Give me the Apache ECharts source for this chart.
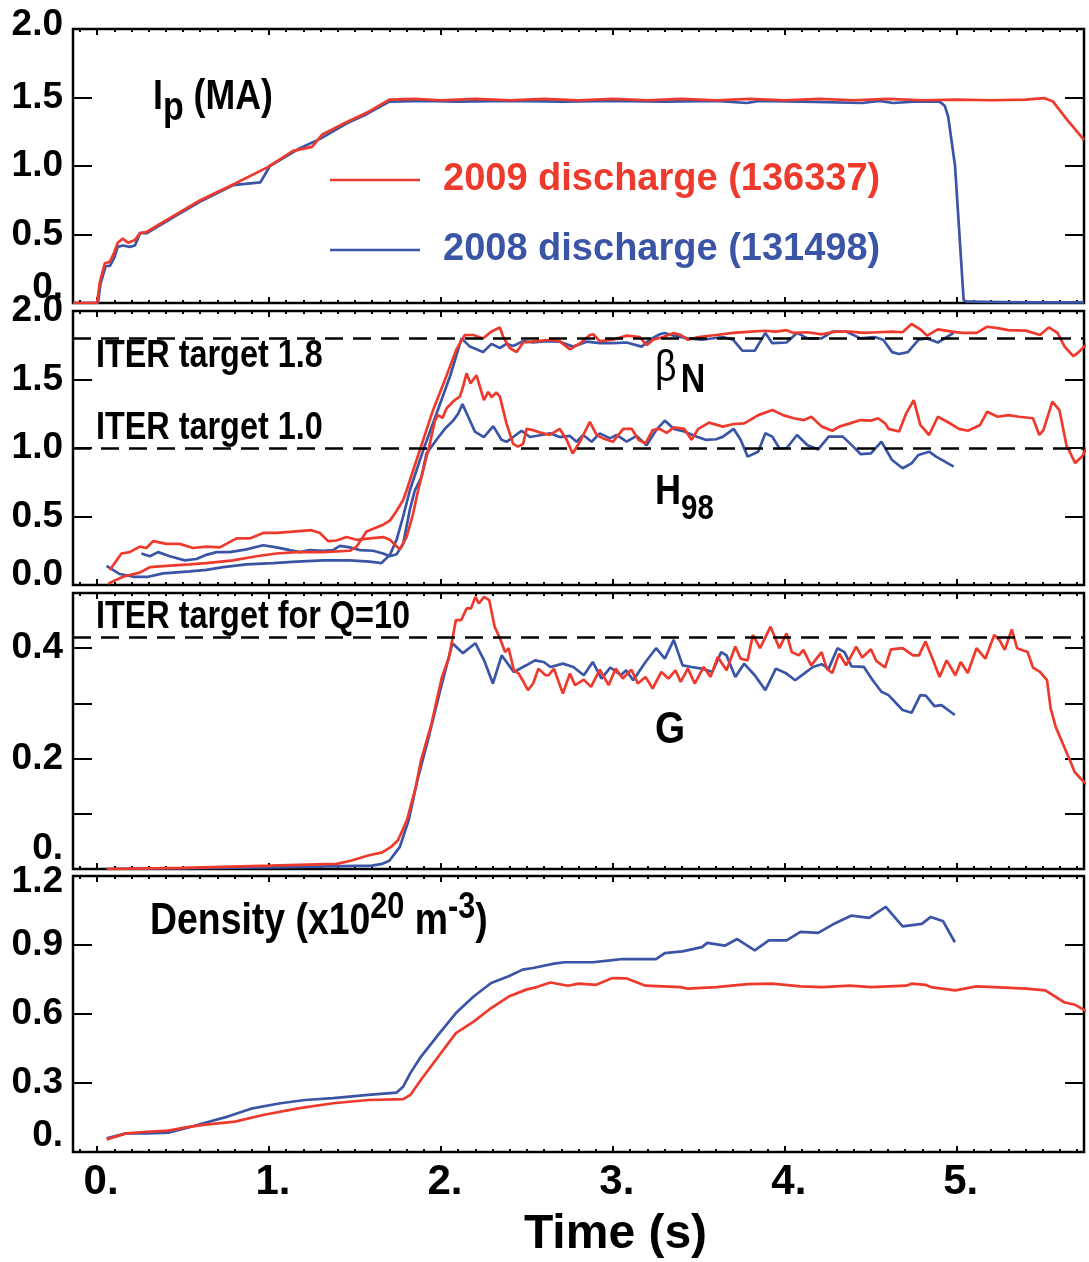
<!DOCTYPE html>
<html>
<head>
<meta charset="utf-8">
<title>NSTX discharge comparison</title>
<script src="https://cdn.jsdelivr.net/npm/echarts@6/dist/echarts.min.js"></script>
<style>
  html, body { margin: 0; padding: 0; background: #fff; }
  #chart { width: 1089px; height: 1262px; }
</style>
</head>
<body>
<div id="chart"></div>
<script>
// ---- time axis (s) ----
const timeMin = -0.14;
const timeMax = 5.74;
const timeTicks = [0, 1, 2, 3, 4, 5];
const timeTickLabels = ['0.', '1.', '2.', '3.', '4.', '5.'];

// ---- y tick labels per panel ----
const ipTickLabels = ['0.', '0.5', '1.0', '1.5', '2.0'];
const betaTickLabels = ['0.0', '0.5', '1.0', '1.5', '2.0'];
const gTickLabels = ['0.', '', '0.2', '', '0.4', ''];
const neTickLabels = ['0.', '0.3', '0.6', '0.9', '1.2'];

// ---- reference levels ----
const iterTargetsBetaH = [1.8, 1.0];
const iterTargetG = 0.42;

// ---- series names ----
const NAME_2009 = '2009 discharge (136337)';
const NAME_2008 = '2008 discharge (131498)';

// ---- plasma current Ip (MA): [time, value] ----
const ipRed = [
  [-0.14, 0.0], [0.0, 0.0], [0.016, 0.15], [0.045, 0.29], [0.074, 0.30], [0.10, 0.37], [0.12, 0.44],
  [0.15, 0.47], [0.18, 0.44], [0.22, 0.46], [0.25, 0.51], [0.29, 0.52], [0.45, 0.64], [0.60, 0.75],
  [0.80, 0.87], [0.99, 0.99], [1.14, 1.11], [1.25, 1.14], [1.31, 1.23], [1.45, 1.32], [1.57, 1.39],
  [1.70, 1.485], [1.85, 1.49], [2.0, 1.48], [2.2, 1.49], [2.4, 1.48], [2.6, 1.49], [2.8, 1.48],
  [3.0, 1.49], [3.2, 1.48], [3.4, 1.49], [3.6, 1.48], [3.8, 1.49], [4.0, 1.48], [4.2, 1.49],
  [4.4, 1.48], [4.6, 1.49], [4.8, 1.48], [5.0, 1.485], [5.2, 1.48], [5.4, 1.485], [5.51, 1.495],
  [5.56, 1.47], [5.64, 1.34], [5.74, 1.19]
];
const ipBlue = [
  [-0.14, 0.0], [0.005, 0.0], [0.02, 0.14], [0.05, 0.27], [0.074, 0.27], [0.10, 0.33], [0.12, 0.41],
  [0.15, 0.42], [0.19, 0.41], [0.22, 0.42], [0.25, 0.51], [0.29, 0.51], [0.45, 0.63], [0.60, 0.74],
  [0.79, 0.86], [0.95, 0.88], [1.005, 1.0], [1.18, 1.13], [1.30, 1.20], [1.45, 1.31], [1.57, 1.38],
  [1.70, 1.47], [1.9, 1.475], [2.1, 1.47], [2.4, 1.475], [2.7, 1.47], [3.0, 1.475], [3.3, 1.47],
  [3.6, 1.475], [3.78, 1.46], [3.85, 1.475], [4.1, 1.47], [4.45, 1.46], [4.55, 1.475], [4.63, 1.46],
  [4.75, 1.47], [4.90, 1.47], [4.93, 1.44], [4.95, 1.36], [4.99, 1.0], [5.015, 0.51], [5.04, 0.02],
  [5.06, 0.01], [5.4, 0.005], [5.74, 0.005]
];

// ---- normalized beta, beta_N ----
const betaRed = [
  [0.064, 0.01], [0.151, 0.06], [0.248, 0.09], [0.307, 0.13], [0.404, 0.14], [0.539, 0.15], [0.636, 0.16],
  [0.791, 0.18], [0.927, 0.21], [1.044, 0.23], [1.16, 0.24], [1.315, 0.24], [1.47, 0.25], [1.509, 0.28],
  [1.567, 0.39], [1.606, 0.41], [1.664, 0.44], [1.703, 0.47], [1.742, 0.54], [1.78, 0.62], [1.80, 0.69],
  [1.877, 0.985], [1.955, 1.28], [2.033, 1.53], [2.09, 1.72], [2.139, 1.825], [2.188, 1.825], [2.245, 1.80],
  [2.294, 1.85], [2.343, 1.88], [2.362, 1.81], [2.40, 1.73], [2.44, 1.70], [2.478, 1.77], [2.556, 1.78],
  [2.634, 1.79], [2.69, 1.78], [2.75, 1.72], [2.81, 1.765], [2.866, 1.825], [2.885, 1.83], [2.924, 1.78],
  [3.00, 1.79], [3.08, 1.82], [3.157, 1.81], [3.196, 1.75], [3.234, 1.79], [3.292, 1.81], [3.354, 1.84],
  [3.394, 1.825], [3.436, 1.79], [3.497, 1.81], [3.60, 1.825], [3.70, 1.84], [3.805, 1.85], [3.887, 1.856],
  [3.948, 1.85], [4.01, 1.86], [4.05, 1.84], [4.132, 1.845], [4.214, 1.83], [4.296, 1.85], [4.378, 1.85],
  [4.46, 1.84], [4.542, 1.845], [4.624, 1.85], [4.685, 1.845], [4.737, 1.905], [4.788, 1.866], [4.828, 1.82],
  [4.89, 1.866], [4.972, 1.85], [5.033, 1.84], [5.115, 1.84], [5.177, 1.885], [5.238, 1.875], [5.30, 1.86],
  [5.402, 1.857], [5.484, 1.825], [5.535, 1.88], [5.586, 1.84], [5.627, 1.74], [5.679, 1.67], [5.709, 1.70],
  [5.756, 1.76]
];
const betaBlue = [
  [0.055, 0.14], [0.132, 0.08], [0.21, 0.06], [0.297, 0.06], [0.384, 0.085], [0.539, 0.10], [0.636, 0.11],
  [0.733, 0.13], [0.869, 0.15], [1.024, 0.16], [1.16, 0.17], [1.315, 0.18], [1.47, 0.18], [1.586, 0.17],
  [1.654, 0.16], [1.703, 0.22], [1.742, 0.33], [1.78, 0.50], [1.819, 0.69], [1.897, 0.985], [1.974, 1.25],
  [2.052, 1.52], [2.12, 1.80], [2.168, 1.74], [2.245, 1.70], [2.294, 1.76], [2.343, 1.73], [2.381, 1.76],
  [2.42, 1.745], [2.478, 1.78], [2.536, 1.77], [2.614, 1.78], [2.69, 1.776], [2.769, 1.74], [2.847, 1.776],
  [2.924, 1.765], [3.0, 1.765], [3.08, 1.77], [3.167, 1.74], [3.215, 1.79], [3.273, 1.83], [3.30, 1.84],
  [3.354, 1.82], [3.436, 1.80], [3.518, 1.79], [3.64, 1.81], [3.70, 1.79], [3.753, 1.71], [3.825, 1.71],
  [3.887, 1.84], [3.927, 1.765], [4.01, 1.77], [4.071, 1.84], [4.132, 1.80], [4.214, 1.80], [4.276, 1.85],
  [4.357, 1.85], [4.44, 1.80], [4.521, 1.81], [4.572, 1.79], [4.624, 1.70], [4.664, 1.686], [4.716, 1.70],
  [4.777, 1.79], [4.828, 1.80], [4.89, 1.77], [4.982, 1.84]
];

// ---- confinement factor H98 ----
const h98Red = [
  [0.074, 0.11], [0.142, 0.23], [0.19, 0.24], [0.248, 0.28], [0.287, 0.27], [0.326, 0.32], [0.404, 0.30],
  [0.481, 0.30], [0.558, 0.27], [0.636, 0.28], [0.714, 0.275], [0.811, 0.34], [0.888, 0.34], [0.966, 0.38],
  [1.044, 0.38], [1.14, 0.39], [1.247, 0.40], [1.296, 0.38], [1.344, 0.32], [1.393, 0.325], [1.451, 0.35],
  [1.509, 0.33], [1.586, 0.34], [1.664, 0.35], [1.703, 0.33], [1.761, 0.26], [1.80, 0.35], [1.838, 0.52],
  [1.867, 0.69], [1.935, 1.03], [1.965, 1.20], [1.984, 1.24], [2.009, 1.22], [2.033, 1.29], [2.08, 1.35],
  [2.11, 1.375], [2.129, 1.45], [2.149, 1.545], [2.172, 1.47], [2.188, 1.50], [2.207, 1.53], [2.226, 1.45],
  [2.25, 1.35], [2.275, 1.41], [2.294, 1.37], [2.323, 1.405], [2.343, 1.375], [2.381, 1.18], [2.42, 1.03],
  [2.449, 1.01], [2.478, 1.03], [2.498, 1.14], [2.536, 1.13], [2.585, 1.11], [2.634, 1.095], [2.69, 1.14],
  [2.731, 1.06], [2.766, 0.96], [2.808, 1.045], [2.866, 1.19], [2.905, 1.095], [2.944, 1.07], [3.0, 1.045],
  [3.06, 1.14], [3.109, 1.14], [3.149, 1.06], [3.19, 1.034], [3.231, 1.13], [3.272, 1.14], [3.313, 1.11],
  [3.354, 1.15], [3.415, 1.14], [3.457, 1.06], [3.497, 1.14], [3.559, 1.185], [3.64, 1.156], [3.702, 1.175],
  [3.764, 1.18], [3.846, 1.24], [3.928, 1.277], [3.99, 1.24], [4.051, 1.217], [4.112, 1.204], [4.154, 1.228],
  [4.215, 1.156], [4.276, 1.126], [4.317, 1.156], [4.379, 1.18], [4.44, 1.204], [4.501, 1.20], [4.542, 1.217],
  [4.583, 1.18], [4.603, 1.14], [4.665, 1.12], [4.706, 1.253], [4.75, 1.35], [4.788, 1.168], [4.839, 1.095],
  [4.89, 1.228], [4.952, 1.186], [5.013, 1.14], [5.065, 1.126], [5.136, 1.168], [5.177, 1.265], [5.238, 1.228],
  [5.30, 1.24], [5.361, 1.228], [5.443, 1.217], [5.48, 1.095], [5.504, 1.13], [5.556, 1.338], [5.597, 1.277],
  [5.638, 1.02], [5.689, 0.89], [5.73, 0.94], [5.756, 1.0]
];
const h98Blue = [
  [0.258, 0.23], [0.307, 0.21], [0.355, 0.24], [0.423, 0.21], [0.51, 0.18], [0.578, 0.19], [0.636, 0.22],
  [0.695, 0.24], [0.772, 0.24], [0.869, 0.26], [0.966, 0.29], [1.044, 0.275], [1.121, 0.255], [1.18, 0.24],
  [1.237, 0.255], [1.315, 0.25], [1.373, 0.255], [1.412, 0.285], [1.47, 0.275], [1.528, 0.255], [1.606, 0.25],
  [1.664, 0.23], [1.703, 0.21], [1.742, 0.225], [1.78, 0.30], [1.819, 0.55], [1.848, 0.69], [1.887, 0.79],
  [1.916, 0.96], [1.974, 1.06], [2.023, 1.14], [2.071, 1.20], [2.10, 1.25], [2.125, 1.32], [2.158, 1.23],
  [2.197, 1.12], [2.25, 1.08], [2.304, 1.16], [2.352, 1.06], [2.381, 1.045], [2.42, 1.08], [2.469, 1.126],
  [2.517, 1.08], [2.585, 1.095], [2.634, 1.107], [2.69, 1.08], [2.75, 1.088], [2.789, 1.046], [2.827, 1.095],
  [2.876, 1.046], [2.924, 1.107], [2.983, 1.07], [3.021, 1.095], [3.08, 1.046], [3.138, 1.088], [3.196, 1.02],
  [3.251, 1.13], [3.302, 1.2], [3.354, 1.14], [3.415, 1.12], [3.477, 1.088], [3.539, 1.06], [3.60, 1.064],
  [3.641, 1.083], [3.702, 1.14], [3.743, 1.06], [3.784, 0.937], [3.845, 0.973], [3.887, 1.107], [3.927, 1.083],
  [3.968, 0.998], [4.01, 0.998], [4.071, 1.095], [4.132, 1.02], [4.194, 0.99], [4.255, 1.083], [4.337, 1.083],
  [4.398, 1.01], [4.44, 0.956], [4.501, 0.961], [4.562, 1.046], [4.624, 0.912], [4.685, 0.852], [4.737, 0.888],
  [4.777, 0.949], [4.839, 0.973], [4.88, 0.937], [4.982, 0.864]
];

// ---- gain parameter G ----
const gRed = [
  [0.056, 0.0], [0.5, 0.002], [1.006, 0.006], [1.393, 0.0094], [1.475, 0.015], [1.577, 0.0245], [1.659, 0.030],
  [1.71, 0.040], [1.75, 0.052], [1.802, 0.088], [1.853, 0.148], [1.884, 0.197], [1.945, 0.263], [2.006, 0.348],
  [2.047, 0.384], [2.087, 0.451], [2.118, 0.451], [2.149, 0.472], [2.175, 0.472], [2.20, 0.493], [2.22, 0.481],
  [2.251, 0.493], [2.281, 0.487], [2.312, 0.439], [2.343, 0.418], [2.373, 0.393], [2.394, 0.40], [2.424, 0.36],
  [2.45, 0.355], [2.475, 0.342], [2.506, 0.324], [2.536, 0.336], [2.567, 0.363], [2.608, 0.351], [2.627, 0.351],
  [2.657, 0.363], [2.709, 0.318], [2.75, 0.354], [2.78, 0.333], [2.831, 0.343], [2.873, 0.33], [2.924, 0.361],
  [2.975, 0.333], [3.016, 0.363], [3.057, 0.345], [3.108, 0.361], [3.145, 0.336], [3.19, 0.348], [3.231, 0.327],
  [3.282, 0.357], [3.323, 0.345], [3.364, 0.36], [3.394, 0.339], [3.436, 0.363], [3.476, 0.336], [3.528, 0.366],
  [3.568, 0.348], [3.61, 0.384], [3.661, 0.36], [3.712, 0.403], [3.743, 0.381], [3.784, 0.378], [3.814, 0.424],
  [3.856, 0.40], [3.917, 0.439], [3.968, 0.40], [4.01, 0.427], [4.04, 0.393], [4.081, 0.387], [4.108, 0.397],
  [4.153, 0.369], [4.214, 0.393], [4.244, 0.363], [4.276, 0.355], [4.316, 0.39], [4.357, 0.369], [4.415, 0.403],
  [4.45, 0.383], [4.501, 0.398], [4.532, 0.377], [4.583, 0.365], [4.617, 0.398], [4.685, 0.40], [4.746, 0.387],
  [4.78, 0.387], [4.818, 0.412], [4.859, 0.381], [4.90, 0.348], [4.941, 0.378], [4.992, 0.351], [5.023, 0.375],
  [5.064, 0.355], [5.115, 0.40], [5.166, 0.381], [5.218, 0.424], [5.248, 0.415], [5.279, 0.397], [5.32, 0.434],
  [5.351, 0.40], [5.412, 0.393], [5.443, 0.365], [5.484, 0.357], [5.525, 0.342], [5.546, 0.291], [5.576, 0.257],
  [5.617, 0.227], [5.658, 0.197], [5.685, 0.176], [5.72, 0.164], [5.756, 0.153]
];
const gBlue = [
  [0.056, 0.0], [1.0, 0.003], [1.598, 0.006], [1.659, 0.0094], [1.70, 0.015], [1.761, 0.040], [1.812, 0.088],
  [1.863, 0.161], [1.924, 0.233], [1.996, 0.324], [2.067, 0.409], [2.128, 0.391], [2.20, 0.409], [2.251, 0.378],
  [2.302, 0.336], [2.353, 0.387], [2.424, 0.357], [2.496, 0.369], [2.547, 0.378], [2.598, 0.375], [2.637, 0.366],
  [2.709, 0.372], [2.77, 0.366], [2.831, 0.351], [2.883, 0.375], [2.934, 0.345], [2.985, 0.365], [3.047, 0.351],
  [3.077, 0.36], [3.118, 0.342], [3.19, 0.375], [3.251, 0.40], [3.302, 0.381], [3.354, 0.415], [3.405, 0.369],
  [3.457, 0.366], [3.518, 0.363], [3.579, 0.357], [3.63, 0.393], [3.661, 0.387], [3.712, 0.348], [3.763, 0.372],
  [3.825, 0.351], [3.887, 0.324], [3.948, 0.363], [4.01, 0.354], [4.06, 0.342], [4.112, 0.354], [4.163, 0.366],
  [4.214, 0.371], [4.255, 0.363], [4.306, 0.40], [4.347, 0.393], [4.388, 0.367], [4.46, 0.366], [4.511, 0.342],
  [4.562, 0.321], [4.603, 0.315], [4.685, 0.288], [4.737, 0.283], [4.788, 0.315], [4.82, 0.314], [4.87, 0.295],
  [4.911, 0.297], [4.989, 0.279]
];

// ---- line-averaged density (1e20 m^-3) ----
const neRed = [
  [0.056, 0.055], [0.169, 0.081], [0.291, 0.088], [0.414, 0.093], [0.516, 0.107], [0.618, 0.118], [0.802, 0.132],
  [0.965, 0.161], [1.169, 0.19], [1.373, 0.212], [1.577, 0.226], [1.781, 0.23], [1.822, 0.248], [1.884, 0.314],
  [1.985, 0.415], [2.087, 0.517], [2.19, 0.567], [2.292, 0.626], [2.394, 0.676], [2.496, 0.706], [2.557, 0.717],
  [2.637, 0.737], [2.739, 0.723], [2.80, 0.732], [2.903, 0.727], [2.995, 0.756], [3.077, 0.755], [3.19, 0.723],
  [3.394, 0.717], [3.436, 0.71], [3.60, 0.717], [3.784, 0.73], [3.927, 0.732], [4.091, 0.72], [4.214, 0.717],
  [4.378, 0.723], [4.501, 0.717], [4.706, 0.723], [4.737, 0.732], [4.818, 0.727], [4.849, 0.717], [4.992, 0.703],
  [5.115, 0.72], [5.218, 0.717], [5.402, 0.71], [5.515, 0.703], [5.627, 0.65], [5.689, 0.64], [5.756, 0.611]
];
const neBlue = [
  [0.056, 0.06], [0.169, 0.081], [0.291, 0.081], [0.414, 0.084], [0.516, 0.103], [0.618, 0.125], [0.76, 0.154],
  [0.904, 0.19], [1.067, 0.212], [1.21, 0.226], [1.373, 0.234], [1.577, 0.248], [1.741, 0.258], [1.781, 0.285],
  [1.822, 0.343], [1.884, 0.415], [1.985, 0.51], [2.087, 0.604], [2.19, 0.676], [2.292, 0.735], [2.394, 0.764],
  [2.475, 0.793], [2.536, 0.80], [2.657, 0.819], [2.718, 0.825], [2.883, 0.825], [2.985, 0.833], [3.056, 0.839],
  [3.251, 0.839], [3.302, 0.865], [3.405, 0.872], [3.518, 0.891], [3.549, 0.909], [3.651, 0.897], [3.723, 0.926],
  [3.825, 0.877], [3.907, 0.92], [4.01, 0.92], [4.091, 0.957], [4.194, 0.953], [4.296, 0.996], [4.388, 1.028],
  [4.49, 1.018], [4.587, 1.066], [4.685, 0.981], [4.797, 0.992], [4.849, 1.022], [4.921, 1.003], [4.989, 0.912]
];

// ---- styling ----
const RED = '#ee3a2c';
const BLUE = '#3b55a6';
const INK = '#000';
const FONT = "'Liberation Sans',Arial,sans-serif";
const NARROW = 0.83;   // horizontal squeeze for the condensed annotation lettering

// minor time ticks every 0.1 s (skipping whole seconds)
const timeMinorTicks = [];
for (let k = -1; k <= 57; k++) {
  if (k % 10 !== 0) timeMinorTicks.push(k / 10);
}

// panel layout: y range and label placement tweaks
const panels = [
  { top: 29,  height: 274, max: 2.0, interval: 0.5, labels: ipTickLabels,   lo: 30, hiUp: 8, hiDown: 0 },
  { top: 311, height: 274, max: 2.0, interval: 0.5, labels: betaTickLabels, lo: 20, hiUp: 0, hiDown: 0 },
  { top: 593, height: 276, max: 0.5, interval: 0.1, labels: gTickLabels,    lo: 40, hiUp: 0, hiDown: 0 },
  { top: 876, height: 276, max: 1.2, interval: 0.3, labels: neTickLabels,   lo: 32, hiUp: 0, hiDown: 12 }
];

const tickFont = { fontSize: 37, fontWeight: 'bold', fontFamily: FONT, color: INK };

const grids = panels.map(p => ({
  left: 73, width: 1011, top: p.top, height: p.height,
  show: true, borderColor: INK, borderWidth: 2.5, backgroundColor: 'transparent',
  containLabel: false, outerBoundsMode: 'none'
}));

const xAxes = [];
const yAxes = [];
panels.forEach((p, g) => {
  const last = g === panels.length - 1;
  const base = {
    type: 'value', gridIndex: g, min: timeMin, max: timeMax,
    axisLine: { show: false, onZero: false },
    splitLine: { show: false }, minorTick: { show: false }, minorSplitLine: { show: false }
  };
  const majorTick = { show: true, inside: true, length: 6, customValues: timeTicks, lineStyle: { color: INK, width: 2 } };
  const minorTick = { show: true, inside: true, length: 3, customValues: timeMinorTicks, lineStyle: { color: INK, width: 2 } };
  const xLabel = last ? {
    show: true, customValues: timeTicks, margin: 9, showMinLabel: true, showMaxLabel: true,
    formatter: v => {
      const i = timeTicks.indexOf(Math.round(v * 1000) / 1000);
      return i < 0 ? '' : '{d|' + timeTickLabels[i] + '}';
    },
    rich: { d: { fontSize: 42, fontWeight: 'bold', fontFamily: FONT, color: INK, padding: [0, 0, 0, 8] } }
  } : { show: false };
  xAxes.push(Object.assign({}, base, {
    position: 'bottom', axisTick: majorTick, axisLabel: xLabel,
    name: last ? 'Time (s)' : '', nameLocation: 'middle', nameGap: 59,
    nameTextStyle: { fontSize: 48, fontWeight: 'bold', fontFamily: FONT, color: INK, padding: [0, 0, 0, 74] }
  }));
  xAxes.push(Object.assign({}, base, { position: 'top', axisTick: majorTick, axisLabel: { show: false } }));
  xAxes.push(Object.assign({}, base, { position: 'bottom', axisTick: minorTick, axisLabel: { show: false } }));
  xAxes.push(Object.assign({}, base, { position: 'top', axisTick: minorTick, axisLabel: { show: false } }));

  const yBase = {
    type: 'value', gridIndex: g, min: 0, max: p.max, interval: p.interval,
    axisLine: { show: false, onZero: false }, splitLine: { show: false },
    axisTick: { show: true, inside: true, length: 19, lineStyle: { color: INK, width: 2 } }
  };
  const n = p.labels.length - 1;
  yAxes.push(Object.assign({}, yBase, {
    position: 'left',
    axisLabel: {
      show: true, margin: 10, showMinLabel: true, showMaxLabel: true,
      formatter: v => {
        const i = Math.round(v / p.interval);
        const s = p.labels[i] || '';
        if (!s) return '';
        if (i === 0) return '{lo|' + s + '}';
        if (i === n && p.hiUp) return '{hu|' + s + '}';
        if (i === n && p.hiDown) return '{hd|' + s + '}';
        return '{n|' + s + '}';
      },
      rich: {
        n: Object.assign({}, tickFont),
        lo: Object.assign({}, tickFont, { padding: [0, 0, p.lo, 0] }),
        hu: Object.assign({}, tickFont, { padding: [0, 0, p.hiUp, 0] }),
        hd: Object.assign({}, tickFont, { padding: [p.hiDown, 0, 0, 0] })
      }
    }
  }));
  yAxes.push(Object.assign({}, yBase, { position: 'right', axisLabel: { show: false } }));
});

function trace(name, color, data, g, extra) {
  return Object.assign({
    type: 'line', name: name, data: data,
    xAxisIndex: g * 4, yAxisIndex: g * 2,
    symbol: 'none', showSymbol: false, smooth: false,
    color: color, itemStyle: { color: color },
    lineStyle: { color: color, width: 2.7 },
    emphasis: { disabled: true }, silent: true, animation: false
  }, extra || {});
}

const dashStyle = { color: INK, width: 2.5, type: [18, 10] };

const series = [
  trace(NAME_2008, BLUE, ipBlue, 0),
  trace(NAME_2009, RED, ipRed, 0),

  trace(NAME_2008, BLUE, betaBlue, 1),
  trace(NAME_2008, BLUE, h98Blue, 1),
  trace(NAME_2009, RED, betaRed, 1, {
    markLine: {
      silent: true, symbol: ['none', 'none'], label: { show: false },
      lineStyle: dashStyle, emphasis: { disabled: true },
      data: iterTargetsBetaH.map(v => ({ yAxis: v }))
    }
  }),
  trace(NAME_2009, RED, h98Red, 1),

  trace(NAME_2008, BLUE, gBlue, 2),
  trace(NAME_2009, RED, gRed, 2, {
    markLine: {
      silent: true, symbol: ['none', 'none'], label: { show: false },
      lineStyle: dashStyle, emphasis: { disabled: true },
      data: [{ yAxis: iterTargetG }]
    }
  }),

  trace(NAME_2008, BLUE, neBlue, 3),
  trace(NAME_2009, RED, neRed, 3)
];

// text annotations inside the panels (condensed by a horizontal squeeze)
function note(x, y, text, rich, extraStyle, squeeze) {
  return {
    type: 'text', x: x, y: y, silent: true, z: 100,
    scaleX: squeeze || NARROW, scaleY: 1,
    style: Object.assign({
      text: text, rich: rich, align: 'left', verticalAlign: 'middle',
      fill: INK, fontSize: 39, fontWeight: 'bold', fontFamily: FONT
    }, extraStyle || {})
  };
}
const bold = (size, extra) => Object.assign({ fontSize: size, fontWeight: 'bold', fontFamily: FONT, fill: INK }, extra);

const graphic = [
  note(153, 97, '{m|I}{s|p}{m| (MA)}', {
    m: bold(42, { lineHeight: 64, verticalAlign: 'middle' }),
    s: bold(40, { lineHeight: 46, verticalAlign: 'bottom' })
  }, null, 0.85),
  note(96, 356, 'ITER target 1.8'),
  note(96, 428, 'ITER target 1.0'),
  note(655, 369, '{g|\u03B2}{s|N}', {
    g: { fontSize: 44, fontWeight: 'normal', fontFamily: FONT, fill: INK, lineHeight: 64, verticalAlign: 'middle', padding: [0, 5, 0, 0] },
    s: bold(40, { lineHeight: 38, verticalAlign: 'bottom' })
  }, null, 0.85),
  note(655, 492, '{m|H}{s|98}', {
    m: bold(43, { lineHeight: 70, verticalAlign: 'middle' }),
    s: bold(35, { lineHeight: 36, verticalAlign: 'bottom' })
  }, null, 0.84),
  note(96, 617, 'ITER target for Q=10'),
  note(655, 731, 'G', null, { fontSize: 45 }, 0.86),
  note(150, 922, '{m|Density (x10}{u|20}{m| m}{u|-3}{m|)}', {
    m: bold(44, { lineHeight: 64, verticalAlign: 'middle' }),
    u: bold(36, { lineHeight: 41, verticalAlign: 'top' })
  }, null, 0.85)
];

const chart = echarts.init(document.getElementById('chart'), null, { renderer: 'canvas' });
chart.setOption({
  animation: false,
  backgroundColor: '#fff',
  grid: grids,
  xAxis: xAxes,
  yAxis: yAxes,
  legend: {
    show: true, left: 330, top: 155, orient: 'vertical', padding: 0,
    icon: 'rect', itemWidth: 90, itemHeight: 2.5, itemGap: 20, selectedMode: false,
    textStyle: { fontSize: 38, fontWeight: 'bold', fontFamily: FONT, lineHeight: 50, padding: [0, 0, 0, 18] },
    data: [
      { name: NAME_2009, textStyle: { color: RED } },
      { name: NAME_2008, textStyle: { color: BLUE } }
    ]
  },
  series: series,
  graphic: graphic
});
</script>
</body>
</html>
